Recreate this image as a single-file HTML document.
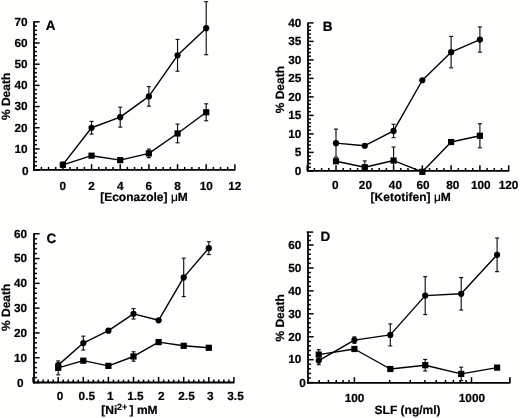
<!DOCTYPE html>
<html><head><meta charset="utf-8"><style>
html,body{margin:0;padding:0;background:#fefefd;}
svg{display:block;will-change:transform;}
text{font-family:"Liberation Sans", sans-serif;fill:#000;stroke:#000;stroke-width:0.2px;text-rendering:geometricPrecision;}
</style></head><body>
<svg width="520" height="418" viewBox="0 0 520 418">
<rect width="520" height="418" fill="#fefefd"/>
<line x1="34.00" y1="170.70" x2="34.00" y2="21.34" stroke="#000" stroke-width="1.8"/>
<line x1="34.00" y1="170.10" x2="39.60" y2="170.10" stroke="#000" stroke-width="1.5"/>
<line x1="34.00" y1="148.92" x2="39.60" y2="148.92" stroke="#000" stroke-width="1.5"/>
<line x1="34.00" y1="127.74" x2="39.60" y2="127.74" stroke="#000" stroke-width="1.5"/>
<line x1="34.00" y1="106.56" x2="39.60" y2="106.56" stroke="#000" stroke-width="1.5"/>
<line x1="34.00" y1="85.38" x2="39.60" y2="85.38" stroke="#000" stroke-width="1.5"/>
<line x1="34.00" y1="64.20" x2="39.60" y2="64.20" stroke="#000" stroke-width="1.5"/>
<line x1="34.00" y1="43.02" x2="39.60" y2="43.02" stroke="#000" stroke-width="1.5"/>
<line x1="34.00" y1="21.84" x2="39.60" y2="21.84" stroke="#000" stroke-width="1.5"/>
<line x1="34.00" y1="165.86" x2="36.90" y2="165.86" stroke="#000" stroke-width="1.5"/>
<line x1="34.00" y1="161.63" x2="36.90" y2="161.63" stroke="#000" stroke-width="1.5"/>
<line x1="34.00" y1="157.39" x2="36.90" y2="157.39" stroke="#000" stroke-width="1.5"/>
<line x1="34.00" y1="153.16" x2="36.90" y2="153.16" stroke="#000" stroke-width="1.5"/>
<line x1="34.00" y1="144.68" x2="36.90" y2="144.68" stroke="#000" stroke-width="1.5"/>
<line x1="34.00" y1="140.45" x2="36.90" y2="140.45" stroke="#000" stroke-width="1.5"/>
<line x1="34.00" y1="136.21" x2="36.90" y2="136.21" stroke="#000" stroke-width="1.5"/>
<line x1="34.00" y1="131.98" x2="36.90" y2="131.98" stroke="#000" stroke-width="1.5"/>
<line x1="34.00" y1="123.50" x2="36.90" y2="123.50" stroke="#000" stroke-width="1.5"/>
<line x1="34.00" y1="119.27" x2="36.90" y2="119.27" stroke="#000" stroke-width="1.5"/>
<line x1="34.00" y1="115.03" x2="36.90" y2="115.03" stroke="#000" stroke-width="1.5"/>
<line x1="34.00" y1="110.80" x2="36.90" y2="110.80" stroke="#000" stroke-width="1.5"/>
<line x1="34.00" y1="102.32" x2="36.90" y2="102.32" stroke="#000" stroke-width="1.5"/>
<line x1="34.00" y1="98.09" x2="36.90" y2="98.09" stroke="#000" stroke-width="1.5"/>
<line x1="34.00" y1="93.85" x2="36.90" y2="93.85" stroke="#000" stroke-width="1.5"/>
<line x1="34.00" y1="89.62" x2="36.90" y2="89.62" stroke="#000" stroke-width="1.5"/>
<line x1="34.00" y1="81.14" x2="36.90" y2="81.14" stroke="#000" stroke-width="1.5"/>
<line x1="34.00" y1="76.91" x2="36.90" y2="76.91" stroke="#000" stroke-width="1.5"/>
<line x1="34.00" y1="72.67" x2="36.90" y2="72.67" stroke="#000" stroke-width="1.5"/>
<line x1="34.00" y1="68.44" x2="36.90" y2="68.44" stroke="#000" stroke-width="1.5"/>
<line x1="34.00" y1="59.96" x2="36.90" y2="59.96" stroke="#000" stroke-width="1.5"/>
<line x1="34.00" y1="55.73" x2="36.90" y2="55.73" stroke="#000" stroke-width="1.5"/>
<line x1="34.00" y1="51.49" x2="36.90" y2="51.49" stroke="#000" stroke-width="1.5"/>
<line x1="34.00" y1="47.26" x2="36.90" y2="47.26" stroke="#000" stroke-width="1.5"/>
<line x1="34.00" y1="38.78" x2="36.90" y2="38.78" stroke="#000" stroke-width="1.5"/>
<line x1="34.00" y1="34.55" x2="36.90" y2="34.55" stroke="#000" stroke-width="1.5"/>
<line x1="34.00" y1="30.31" x2="36.90" y2="30.31" stroke="#000" stroke-width="1.5"/>
<line x1="34.00" y1="26.08" x2="36.90" y2="26.08" stroke="#000" stroke-width="1.5"/>
<line x1="33.10" y1="169.80" x2="235.36" y2="169.80" stroke="#000" stroke-width="1.8"/>
<line x1="34.24" y1="169.80" x2="34.24" y2="164.20" stroke="#000" stroke-width="1.5"/>
<line x1="62.90" y1="169.80" x2="62.90" y2="164.20" stroke="#000" stroke-width="1.5"/>
<line x1="91.56" y1="169.80" x2="91.56" y2="164.20" stroke="#000" stroke-width="1.5"/>
<line x1="120.22" y1="169.80" x2="120.22" y2="164.20" stroke="#000" stroke-width="1.5"/>
<line x1="148.88" y1="169.80" x2="148.88" y2="164.20" stroke="#000" stroke-width="1.5"/>
<line x1="177.54" y1="169.80" x2="177.54" y2="164.20" stroke="#000" stroke-width="1.5"/>
<line x1="206.20" y1="169.80" x2="206.20" y2="164.20" stroke="#000" stroke-width="1.5"/>
<line x1="234.86" y1="169.80" x2="234.86" y2="164.20" stroke="#000" stroke-width="1.5"/>
<line x1="41.41" y1="169.80" x2="41.41" y2="166.90" stroke="#000" stroke-width="1.5"/>
<line x1="48.57" y1="169.80" x2="48.57" y2="166.90" stroke="#000" stroke-width="1.5"/>
<line x1="55.73" y1="169.80" x2="55.73" y2="166.90" stroke="#000" stroke-width="1.5"/>
<line x1="70.06" y1="169.80" x2="70.06" y2="166.90" stroke="#000" stroke-width="1.5"/>
<line x1="77.23" y1="169.80" x2="77.23" y2="166.90" stroke="#000" stroke-width="1.5"/>
<line x1="84.39" y1="169.80" x2="84.39" y2="166.90" stroke="#000" stroke-width="1.5"/>
<line x1="98.72" y1="169.80" x2="98.72" y2="166.90" stroke="#000" stroke-width="1.5"/>
<line x1="105.89" y1="169.80" x2="105.89" y2="166.90" stroke="#000" stroke-width="1.5"/>
<line x1="113.06" y1="169.80" x2="113.06" y2="166.90" stroke="#000" stroke-width="1.5"/>
<line x1="127.38" y1="169.80" x2="127.38" y2="166.90" stroke="#000" stroke-width="1.5"/>
<line x1="134.55" y1="169.80" x2="134.55" y2="166.90" stroke="#000" stroke-width="1.5"/>
<line x1="141.72" y1="169.80" x2="141.72" y2="166.90" stroke="#000" stroke-width="1.5"/>
<line x1="156.04" y1="169.80" x2="156.04" y2="166.90" stroke="#000" stroke-width="1.5"/>
<line x1="163.21" y1="169.80" x2="163.21" y2="166.90" stroke="#000" stroke-width="1.5"/>
<line x1="170.38" y1="169.80" x2="170.38" y2="166.90" stroke="#000" stroke-width="1.5"/>
<line x1="184.71" y1="169.80" x2="184.71" y2="166.90" stroke="#000" stroke-width="1.5"/>
<line x1="191.87" y1="169.80" x2="191.87" y2="166.90" stroke="#000" stroke-width="1.5"/>
<line x1="199.03" y1="169.80" x2="199.03" y2="166.90" stroke="#000" stroke-width="1.5"/>
<line x1="213.37" y1="169.80" x2="213.37" y2="166.90" stroke="#000" stroke-width="1.5"/>
<line x1="220.53" y1="169.80" x2="220.53" y2="166.90" stroke="#000" stroke-width="1.5"/>
<line x1="227.69" y1="169.80" x2="227.69" y2="166.90" stroke="#000" stroke-width="1.5"/>
<text x="27.50" y="152.71" font-size="11.8" text-anchor="end" font-weight="bold" >10</text>
<text x="27.50" y="131.53" font-size="11.8" text-anchor="end" font-weight="bold" >20</text>
<text x="27.50" y="110.35" font-size="11.8" text-anchor="end" font-weight="bold" >30</text>
<text x="27.50" y="89.17" font-size="11.8" text-anchor="end" font-weight="bold" >40</text>
<text x="27.50" y="67.99" font-size="11.8" text-anchor="end" font-weight="bold" >50</text>
<text x="27.50" y="46.81" font-size="11.8" text-anchor="end" font-weight="bold" >60</text>
<text x="27.50" y="25.63" font-size="11.8" text-anchor="end" font-weight="bold" >70</text>
<text x="28.50" y="174.79" font-size="11.8" text-anchor="end" font-weight="bold" >0</text>
<text x="62.90" y="189.99" font-size="11.8" text-anchor="middle" font-weight="bold" >0</text>
<text x="91.56" y="189.99" font-size="11.8" text-anchor="middle" font-weight="bold" >2</text>
<text x="120.22" y="189.99" font-size="11.8" text-anchor="middle" font-weight="bold" >4</text>
<text x="148.88" y="189.99" font-size="11.8" text-anchor="middle" font-weight="bold" >6</text>
<text x="177.54" y="189.99" font-size="11.8" text-anchor="middle" font-weight="bold" >8</text>
<text x="206.20" y="189.99" font-size="11.8" text-anchor="middle" font-weight="bold" >10</text>
<text x="234.86" y="189.99" font-size="11.8" text-anchor="middle" font-weight="bold" >12</text>
<text x="45.80" y="29.80" font-size="13.5" text-anchor="start" font-weight="bold" >A</text>
<text x="100.20" y="201.30" font-size="12" text-anchor="start" font-weight="bold" >[Econazole] <tspan font-weight="normal">μ</tspan>M</text>
<text x="0" y="0" font-size="12" font-weight="bold" text-anchor="middle" transform="translate(10.00,96.40) rotate(-90)">% Death</text>
<path d="M62.90,164.81 L91.56,155.70 L120.22,160.15 L148.88,153.37 L177.54,133.46 L206.20,112.28" fill="none" stroke="#000" stroke-width="1.4" stroke-linejoin="round"/>
<line x1="148.88" y1="149.13" x2="148.88" y2="153.37" stroke="#111" stroke-width="1.15"/>
<line x1="146.88" y1="149.13" x2="150.88" y2="149.13" stroke="#111" stroke-width="1.15"/>
<line x1="148.88" y1="153.37" x2="148.88" y2="157.61" stroke="#111" stroke-width="1.15"/>
<line x1="146.88" y1="157.61" x2="150.88" y2="157.61" stroke="#111" stroke-width="1.15"/>
<line x1="177.54" y1="124.13" x2="177.54" y2="133.46" stroke="#111" stroke-width="1.15"/>
<line x1="175.54" y1="124.13" x2="179.54" y2="124.13" stroke="#111" stroke-width="1.15"/>
<line x1="177.54" y1="133.46" x2="177.54" y2="142.79" stroke="#111" stroke-width="1.15"/>
<line x1="175.54" y1="142.79" x2="179.54" y2="142.79" stroke="#111" stroke-width="1.15"/>
<line x1="206.20" y1="103.79" x2="206.20" y2="112.28" stroke="#111" stroke-width="1.15"/>
<line x1="204.20" y1="103.79" x2="208.20" y2="103.79" stroke="#111" stroke-width="1.15"/>
<line x1="206.20" y1="112.28" x2="206.20" y2="120.76" stroke="#111" stroke-width="1.15"/>
<line x1="204.20" y1="120.76" x2="208.20" y2="120.76" stroke="#111" stroke-width="1.15"/>
<rect x="59.80" y="161.71" width="6.2" height="6.2" fill="#000"/>
<rect x="88.46" y="152.60" width="6.2" height="6.2" fill="#000"/>
<rect x="117.12" y="157.05" width="6.2" height="6.2" fill="#000"/>
<rect x="145.78" y="150.27" width="6.2" height="6.2" fill="#000"/>
<rect x="174.44" y="130.36" width="6.2" height="6.2" fill="#000"/>
<rect x="203.10" y="109.18" width="6.2" height="6.2" fill="#000"/>
<path d="M62.90,164.59 L91.56,127.74 L120.22,117.15 L148.88,96.39 L177.54,55.30 L206.20,28.19" fill="none" stroke="#000" stroke-width="1.4" stroke-linejoin="round"/>
<line x1="91.56" y1="121.38" x2="91.56" y2="127.74" stroke="#111" stroke-width="1.15"/>
<line x1="89.56" y1="121.38" x2="93.56" y2="121.38" stroke="#111" stroke-width="1.15"/>
<line x1="91.56" y1="127.74" x2="91.56" y2="134.10" stroke="#111" stroke-width="1.15"/>
<line x1="89.56" y1="134.10" x2="93.56" y2="134.10" stroke="#111" stroke-width="1.15"/>
<line x1="120.22" y1="107.18" x2="120.22" y2="117.15" stroke="#111" stroke-width="1.15"/>
<line x1="118.22" y1="107.18" x2="122.22" y2="107.18" stroke="#111" stroke-width="1.15"/>
<line x1="120.22" y1="117.15" x2="120.22" y2="127.12" stroke="#111" stroke-width="1.15"/>
<line x1="118.22" y1="127.12" x2="122.22" y2="127.12" stroke="#111" stroke-width="1.15"/>
<line x1="148.88" y1="86.64" x2="148.88" y2="96.39" stroke="#111" stroke-width="1.15"/>
<line x1="146.88" y1="86.64" x2="150.88" y2="86.64" stroke="#111" stroke-width="1.15"/>
<line x1="148.88" y1="96.39" x2="148.88" y2="106.15" stroke="#111" stroke-width="1.15"/>
<line x1="146.88" y1="106.15" x2="150.88" y2="106.15" stroke="#111" stroke-width="1.15"/>
<line x1="177.54" y1="39.40" x2="177.54" y2="55.30" stroke="#111" stroke-width="1.15"/>
<line x1="175.54" y1="39.40" x2="179.54" y2="39.40" stroke="#111" stroke-width="1.15"/>
<line x1="177.54" y1="55.30" x2="177.54" y2="71.21" stroke="#111" stroke-width="1.15"/>
<line x1="175.54" y1="71.21" x2="179.54" y2="71.21" stroke="#111" stroke-width="1.15"/>
<line x1="206.20" y1="1.68" x2="206.20" y2="28.19" stroke="#111" stroke-width="1.15"/>
<line x1="204.20" y1="1.68" x2="208.20" y2="1.68" stroke="#111" stroke-width="1.15"/>
<line x1="206.20" y1="28.19" x2="206.20" y2="54.71" stroke="#111" stroke-width="1.15"/>
<line x1="204.20" y1="54.71" x2="208.20" y2="54.71" stroke="#111" stroke-width="1.15"/>
<circle cx="62.90" cy="164.59" r="3.10" fill="#000"/>
<circle cx="91.56" cy="127.74" r="3.10" fill="#000"/>
<circle cx="120.22" cy="117.15" r="3.10" fill="#000"/>
<circle cx="148.88" cy="96.39" r="3.10" fill="#000"/>
<circle cx="177.54" cy="55.30" r="3.10" fill="#000"/>
<circle cx="206.20" cy="28.19" r="3.10" fill="#000"/>
<line x1="308.00" y1="171.80" x2="308.00" y2="22.40" stroke="#000" stroke-width="1.8"/>
<line x1="308.00" y1="170.90" x2="313.60" y2="170.90" stroke="#000" stroke-width="1.5"/>
<line x1="308.00" y1="152.40" x2="313.60" y2="152.40" stroke="#000" stroke-width="1.5"/>
<line x1="308.00" y1="133.90" x2="313.60" y2="133.90" stroke="#000" stroke-width="1.5"/>
<line x1="308.00" y1="115.40" x2="313.60" y2="115.40" stroke="#000" stroke-width="1.5"/>
<line x1="308.00" y1="96.90" x2="313.60" y2="96.90" stroke="#000" stroke-width="1.5"/>
<line x1="308.00" y1="78.40" x2="313.60" y2="78.40" stroke="#000" stroke-width="1.5"/>
<line x1="308.00" y1="59.90" x2="313.60" y2="59.90" stroke="#000" stroke-width="1.5"/>
<line x1="308.00" y1="41.40" x2="313.60" y2="41.40" stroke="#000" stroke-width="1.5"/>
<line x1="308.00" y1="22.90" x2="313.60" y2="22.90" stroke="#000" stroke-width="1.5"/>
<line x1="308.00" y1="167.20" x2="310.90" y2="167.20" stroke="#000" stroke-width="1.5"/>
<line x1="308.00" y1="163.50" x2="310.90" y2="163.50" stroke="#000" stroke-width="1.5"/>
<line x1="308.00" y1="159.80" x2="310.90" y2="159.80" stroke="#000" stroke-width="1.5"/>
<line x1="308.00" y1="156.10" x2="310.90" y2="156.10" stroke="#000" stroke-width="1.5"/>
<line x1="308.00" y1="148.70" x2="310.90" y2="148.70" stroke="#000" stroke-width="1.5"/>
<line x1="308.00" y1="145.00" x2="310.90" y2="145.00" stroke="#000" stroke-width="1.5"/>
<line x1="308.00" y1="141.30" x2="310.90" y2="141.30" stroke="#000" stroke-width="1.5"/>
<line x1="308.00" y1="137.60" x2="310.90" y2="137.60" stroke="#000" stroke-width="1.5"/>
<line x1="308.00" y1="130.20" x2="310.90" y2="130.20" stroke="#000" stroke-width="1.5"/>
<line x1="308.00" y1="126.50" x2="310.90" y2="126.50" stroke="#000" stroke-width="1.5"/>
<line x1="308.00" y1="122.80" x2="310.90" y2="122.80" stroke="#000" stroke-width="1.5"/>
<line x1="308.00" y1="119.10" x2="310.90" y2="119.10" stroke="#000" stroke-width="1.5"/>
<line x1="308.00" y1="111.70" x2="310.90" y2="111.70" stroke="#000" stroke-width="1.5"/>
<line x1="308.00" y1="108.00" x2="310.90" y2="108.00" stroke="#000" stroke-width="1.5"/>
<line x1="308.00" y1="104.30" x2="310.90" y2="104.30" stroke="#000" stroke-width="1.5"/>
<line x1="308.00" y1="100.60" x2="310.90" y2="100.60" stroke="#000" stroke-width="1.5"/>
<line x1="308.00" y1="93.20" x2="310.90" y2="93.20" stroke="#000" stroke-width="1.5"/>
<line x1="308.00" y1="89.50" x2="310.90" y2="89.50" stroke="#000" stroke-width="1.5"/>
<line x1="308.00" y1="85.80" x2="310.90" y2="85.80" stroke="#000" stroke-width="1.5"/>
<line x1="308.00" y1="82.10" x2="310.90" y2="82.10" stroke="#000" stroke-width="1.5"/>
<line x1="308.00" y1="74.70" x2="310.90" y2="74.70" stroke="#000" stroke-width="1.5"/>
<line x1="308.00" y1="71.00" x2="310.90" y2="71.00" stroke="#000" stroke-width="1.5"/>
<line x1="308.00" y1="67.30" x2="310.90" y2="67.30" stroke="#000" stroke-width="1.5"/>
<line x1="308.00" y1="63.60" x2="310.90" y2="63.60" stroke="#000" stroke-width="1.5"/>
<line x1="308.00" y1="56.20" x2="310.90" y2="56.20" stroke="#000" stroke-width="1.5"/>
<line x1="308.00" y1="52.50" x2="310.90" y2="52.50" stroke="#000" stroke-width="1.5"/>
<line x1="308.00" y1="48.80" x2="310.90" y2="48.80" stroke="#000" stroke-width="1.5"/>
<line x1="308.00" y1="45.10" x2="310.90" y2="45.10" stroke="#000" stroke-width="1.5"/>
<line x1="308.00" y1="37.70" x2="310.90" y2="37.70" stroke="#000" stroke-width="1.5"/>
<line x1="308.00" y1="34.00" x2="310.90" y2="34.00" stroke="#000" stroke-width="1.5"/>
<line x1="308.00" y1="30.30" x2="310.90" y2="30.30" stroke="#000" stroke-width="1.5"/>
<line x1="308.00" y1="26.60" x2="310.90" y2="26.60" stroke="#000" stroke-width="1.5"/>
<line x1="307.10" y1="170.90" x2="509.18" y2="170.90" stroke="#000" stroke-width="1.8"/>
<line x1="307.22" y1="170.90" x2="307.22" y2="165.30" stroke="#000" stroke-width="1.5"/>
<line x1="336.00" y1="170.90" x2="336.00" y2="165.30" stroke="#000" stroke-width="1.5"/>
<line x1="364.78" y1="170.90" x2="364.78" y2="165.30" stroke="#000" stroke-width="1.5"/>
<line x1="393.56" y1="170.90" x2="393.56" y2="165.30" stroke="#000" stroke-width="1.5"/>
<line x1="422.34" y1="170.90" x2="422.34" y2="165.30" stroke="#000" stroke-width="1.5"/>
<line x1="451.12" y1="170.90" x2="451.12" y2="165.30" stroke="#000" stroke-width="1.5"/>
<line x1="479.90" y1="170.90" x2="479.90" y2="165.30" stroke="#000" stroke-width="1.5"/>
<line x1="508.68" y1="170.90" x2="508.68" y2="165.30" stroke="#000" stroke-width="1.5"/>
<line x1="314.42" y1="170.90" x2="314.42" y2="168.00" stroke="#000" stroke-width="1.5"/>
<line x1="321.61" y1="170.90" x2="321.61" y2="168.00" stroke="#000" stroke-width="1.5"/>
<line x1="328.81" y1="170.90" x2="328.81" y2="168.00" stroke="#000" stroke-width="1.5"/>
<line x1="343.19" y1="170.90" x2="343.19" y2="168.00" stroke="#000" stroke-width="1.5"/>
<line x1="350.39" y1="170.90" x2="350.39" y2="168.00" stroke="#000" stroke-width="1.5"/>
<line x1="357.58" y1="170.90" x2="357.58" y2="168.00" stroke="#000" stroke-width="1.5"/>
<line x1="371.98" y1="170.90" x2="371.98" y2="168.00" stroke="#000" stroke-width="1.5"/>
<line x1="379.17" y1="170.90" x2="379.17" y2="168.00" stroke="#000" stroke-width="1.5"/>
<line x1="386.37" y1="170.90" x2="386.37" y2="168.00" stroke="#000" stroke-width="1.5"/>
<line x1="400.75" y1="170.90" x2="400.75" y2="168.00" stroke="#000" stroke-width="1.5"/>
<line x1="407.95" y1="170.90" x2="407.95" y2="168.00" stroke="#000" stroke-width="1.5"/>
<line x1="415.14" y1="170.90" x2="415.14" y2="168.00" stroke="#000" stroke-width="1.5"/>
<line x1="429.53" y1="170.90" x2="429.53" y2="168.00" stroke="#000" stroke-width="1.5"/>
<line x1="436.73" y1="170.90" x2="436.73" y2="168.00" stroke="#000" stroke-width="1.5"/>
<line x1="443.93" y1="170.90" x2="443.93" y2="168.00" stroke="#000" stroke-width="1.5"/>
<line x1="458.31" y1="170.90" x2="458.31" y2="168.00" stroke="#000" stroke-width="1.5"/>
<line x1="465.51" y1="170.90" x2="465.51" y2="168.00" stroke="#000" stroke-width="1.5"/>
<line x1="472.71" y1="170.90" x2="472.71" y2="168.00" stroke="#000" stroke-width="1.5"/>
<line x1="487.10" y1="170.90" x2="487.10" y2="168.00" stroke="#000" stroke-width="1.5"/>
<line x1="494.29" y1="170.90" x2="494.29" y2="168.00" stroke="#000" stroke-width="1.5"/>
<line x1="501.49" y1="170.90" x2="501.49" y2="168.00" stroke="#000" stroke-width="1.5"/>
<text x="301.30" y="174.69" font-size="11.8" text-anchor="end" font-weight="bold" >0</text>
<text x="301.30" y="156.19" font-size="11.8" text-anchor="end" font-weight="bold" >5</text>
<text x="301.30" y="137.69" font-size="11.8" text-anchor="end" font-weight="bold" >10</text>
<text x="301.30" y="119.19" font-size="11.8" text-anchor="end" font-weight="bold" >15</text>
<text x="301.30" y="100.69" font-size="11.8" text-anchor="end" font-weight="bold" >20</text>
<text x="301.30" y="82.19" font-size="11.8" text-anchor="end" font-weight="bold" >25</text>
<text x="301.30" y="63.69" font-size="11.8" text-anchor="end" font-weight="bold" >30</text>
<text x="301.30" y="45.19" font-size="11.8" text-anchor="end" font-weight="bold" >35</text>
<text x="301.30" y="26.69" font-size="11.8" text-anchor="end" font-weight="bold" >40</text>
<text x="335.20" y="189.39" font-size="11.8" text-anchor="middle" font-weight="bold" >0</text>
<text x="365.40" y="189.39" font-size="11.8" text-anchor="middle" font-weight="bold" >20</text>
<text x="395.40" y="189.39" font-size="11.8" text-anchor="middle" font-weight="bold" >40</text>
<text x="423.10" y="189.39" font-size="11.8" text-anchor="middle" font-weight="bold" >60</text>
<text x="452.70" y="189.39" font-size="11.8" text-anchor="middle" font-weight="bold" >80</text>
<text x="480.80" y="189.39" font-size="11.8" text-anchor="middle" font-weight="bold" >100</text>
<text x="508.50" y="189.39" font-size="11.8" text-anchor="middle" font-weight="bold" >120</text>
<text x="322.80" y="31.30" font-size="13.5" text-anchor="start" font-weight="bold" >B</text>
<text x="370.60" y="200.80" font-size="12" text-anchor="start" font-weight="bold" >[Ketotifen] <tspan font-weight="normal">μ</tspan>M</text>
<text x="0" y="0" font-size="12" font-weight="bold" text-anchor="middle" transform="translate(283.50,89.70) rotate(-90)">% Death</text>
<path d="M336.00,161.28 L364.78,167.20 L393.56,160.54 L422.34,171.83 L451.12,142.04 L479.90,135.75" fill="none" stroke="#000" stroke-width="1.4" stroke-linejoin="round"/>
<line x1="364.78" y1="160.91" x2="364.78" y2="167.20" stroke="#111" stroke-width="1.15"/>
<line x1="362.78" y1="160.91" x2="366.78" y2="160.91" stroke="#111" stroke-width="1.15"/>
<line x1="364.78" y1="167.20" x2="364.78" y2="170.90" stroke="#111" stroke-width="1.15"/>
<line x1="393.56" y1="147.04" x2="393.56" y2="160.54" stroke="#111" stroke-width="1.15"/>
<line x1="391.56" y1="147.04" x2="395.56" y2="147.04" stroke="#111" stroke-width="1.15"/>
<line x1="393.56" y1="160.54" x2="393.56" y2="170.90" stroke="#111" stroke-width="1.15"/>
<line x1="479.90" y1="123.72" x2="479.90" y2="135.75" stroke="#111" stroke-width="1.15"/>
<line x1="477.90" y1="123.72" x2="481.90" y2="123.72" stroke="#111" stroke-width="1.15"/>
<line x1="479.90" y1="135.75" x2="479.90" y2="147.78" stroke="#111" stroke-width="1.15"/>
<line x1="477.90" y1="147.78" x2="481.90" y2="147.78" stroke="#111" stroke-width="1.15"/>
<rect x="332.90" y="158.18" width="6.2" height="6.2" fill="#000"/>
<rect x="361.68" y="164.10" width="6.2" height="6.2" fill="#000"/>
<rect x="390.46" y="157.44" width="6.2" height="6.2" fill="#000"/>
<rect x="419.24" y="168.73" width="6.2" height="6.2" fill="#000"/>
<rect x="448.02" y="138.94" width="6.2" height="6.2" fill="#000"/>
<rect x="476.80" y="132.65" width="6.2" height="6.2" fill="#000"/>
<path d="M336.00,143.15 L364.78,145.74 L393.56,130.94 L422.34,80.25 L451.12,52.13 L479.90,39.55" fill="none" stroke="#000" stroke-width="1.4" stroke-linejoin="round"/>
<line x1="336.00" y1="129.09" x2="336.00" y2="143.15" stroke="#111" stroke-width="1.15"/>
<line x1="334.00" y1="129.09" x2="338.00" y2="129.09" stroke="#111" stroke-width="1.15"/>
<line x1="336.00" y1="143.15" x2="336.00" y2="157.21" stroke="#111" stroke-width="1.15"/>
<line x1="334.00" y1="157.21" x2="338.00" y2="157.21" stroke="#111" stroke-width="1.15"/>
<line x1="393.56" y1="124.28" x2="393.56" y2="130.94" stroke="#111" stroke-width="1.15"/>
<line x1="391.56" y1="124.28" x2="395.56" y2="124.28" stroke="#111" stroke-width="1.15"/>
<line x1="393.56" y1="130.94" x2="393.56" y2="137.60" stroke="#111" stroke-width="1.15"/>
<line x1="391.56" y1="137.60" x2="395.56" y2="137.60" stroke="#111" stroke-width="1.15"/>
<line x1="451.12" y1="36.40" x2="451.12" y2="52.13" stroke="#111" stroke-width="1.15"/>
<line x1="449.12" y1="36.40" x2="453.12" y2="36.40" stroke="#111" stroke-width="1.15"/>
<line x1="451.12" y1="52.13" x2="451.12" y2="67.85" stroke="#111" stroke-width="1.15"/>
<line x1="449.12" y1="67.85" x2="453.12" y2="67.85" stroke="#111" stroke-width="1.15"/>
<line x1="479.90" y1="26.97" x2="479.90" y2="39.55" stroke="#111" stroke-width="1.15"/>
<line x1="477.90" y1="26.97" x2="481.90" y2="26.97" stroke="#111" stroke-width="1.15"/>
<line x1="479.90" y1="39.55" x2="479.90" y2="52.13" stroke="#111" stroke-width="1.15"/>
<line x1="477.90" y1="52.13" x2="481.90" y2="52.13" stroke="#111" stroke-width="1.15"/>
<circle cx="336.00" cy="143.15" r="3.10" fill="#000"/>
<circle cx="364.78" cy="145.74" r="3.10" fill="#000"/>
<circle cx="393.56" cy="130.94" r="3.10" fill="#000"/>
<circle cx="422.34" cy="80.25" r="3.10" fill="#000"/>
<circle cx="451.12" cy="52.13" r="3.10" fill="#000"/>
<circle cx="479.90" cy="39.55" r="3.10" fill="#000"/>
<line x1="34.00" y1="383.40" x2="34.00" y2="233.26" stroke="#000" stroke-width="1.8"/>
<line x1="34.00" y1="382.50" x2="39.60" y2="382.50" stroke="#000" stroke-width="1.5"/>
<line x1="34.00" y1="357.71" x2="39.60" y2="357.71" stroke="#000" stroke-width="1.5"/>
<line x1="34.00" y1="332.92" x2="39.60" y2="332.92" stroke="#000" stroke-width="1.5"/>
<line x1="34.00" y1="308.13" x2="39.60" y2="308.13" stroke="#000" stroke-width="1.5"/>
<line x1="34.00" y1="283.34" x2="39.60" y2="283.34" stroke="#000" stroke-width="1.5"/>
<line x1="34.00" y1="258.55" x2="39.60" y2="258.55" stroke="#000" stroke-width="1.5"/>
<line x1="34.00" y1="233.76" x2="39.60" y2="233.76" stroke="#000" stroke-width="1.5"/>
<line x1="34.00" y1="377.54" x2="36.90" y2="377.54" stroke="#000" stroke-width="1.5"/>
<line x1="34.00" y1="372.58" x2="36.90" y2="372.58" stroke="#000" stroke-width="1.5"/>
<line x1="34.00" y1="367.63" x2="36.90" y2="367.63" stroke="#000" stroke-width="1.5"/>
<line x1="34.00" y1="362.67" x2="36.90" y2="362.67" stroke="#000" stroke-width="1.5"/>
<line x1="34.00" y1="352.75" x2="36.90" y2="352.75" stroke="#000" stroke-width="1.5"/>
<line x1="34.00" y1="347.79" x2="36.90" y2="347.79" stroke="#000" stroke-width="1.5"/>
<line x1="34.00" y1="342.84" x2="36.90" y2="342.84" stroke="#000" stroke-width="1.5"/>
<line x1="34.00" y1="337.88" x2="36.90" y2="337.88" stroke="#000" stroke-width="1.5"/>
<line x1="34.00" y1="327.96" x2="36.90" y2="327.96" stroke="#000" stroke-width="1.5"/>
<line x1="34.00" y1="323.00" x2="36.90" y2="323.00" stroke="#000" stroke-width="1.5"/>
<line x1="34.00" y1="318.05" x2="36.90" y2="318.05" stroke="#000" stroke-width="1.5"/>
<line x1="34.00" y1="313.09" x2="36.90" y2="313.09" stroke="#000" stroke-width="1.5"/>
<line x1="34.00" y1="303.17" x2="36.90" y2="303.17" stroke="#000" stroke-width="1.5"/>
<line x1="34.00" y1="298.21" x2="36.90" y2="298.21" stroke="#000" stroke-width="1.5"/>
<line x1="34.00" y1="293.26" x2="36.90" y2="293.26" stroke="#000" stroke-width="1.5"/>
<line x1="34.00" y1="288.30" x2="36.90" y2="288.30" stroke="#000" stroke-width="1.5"/>
<line x1="34.00" y1="278.38" x2="36.90" y2="278.38" stroke="#000" stroke-width="1.5"/>
<line x1="34.00" y1="273.42" x2="36.90" y2="273.42" stroke="#000" stroke-width="1.5"/>
<line x1="34.00" y1="268.47" x2="36.90" y2="268.47" stroke="#000" stroke-width="1.5"/>
<line x1="34.00" y1="263.51" x2="36.90" y2="263.51" stroke="#000" stroke-width="1.5"/>
<line x1="34.00" y1="253.59" x2="36.90" y2="253.59" stroke="#000" stroke-width="1.5"/>
<line x1="34.00" y1="248.63" x2="36.90" y2="248.63" stroke="#000" stroke-width="1.5"/>
<line x1="34.00" y1="243.68" x2="36.90" y2="243.68" stroke="#000" stroke-width="1.5"/>
<line x1="34.00" y1="238.72" x2="36.90" y2="238.72" stroke="#000" stroke-width="1.5"/>
<line x1="33.10" y1="382.50" x2="234.40" y2="382.50" stroke="#000" stroke-width="1.8"/>
<line x1="33.10" y1="382.50" x2="33.10" y2="376.90" stroke="#000" stroke-width="1.5"/>
<line x1="58.20" y1="382.50" x2="58.20" y2="376.90" stroke="#000" stroke-width="1.5"/>
<line x1="83.30" y1="382.50" x2="83.30" y2="376.90" stroke="#000" stroke-width="1.5"/>
<line x1="108.40" y1="382.50" x2="108.40" y2="376.90" stroke="#000" stroke-width="1.5"/>
<line x1="133.50" y1="382.50" x2="133.50" y2="376.90" stroke="#000" stroke-width="1.5"/>
<line x1="158.60" y1="382.50" x2="158.60" y2="376.90" stroke="#000" stroke-width="1.5"/>
<line x1="183.70" y1="382.50" x2="183.70" y2="376.90" stroke="#000" stroke-width="1.5"/>
<line x1="208.80" y1="382.50" x2="208.80" y2="376.90" stroke="#000" stroke-width="1.5"/>
<line x1="233.90" y1="382.50" x2="233.90" y2="376.90" stroke="#000" stroke-width="1.5"/>
<line x1="38.12" y1="382.50" x2="38.12" y2="379.60" stroke="#000" stroke-width="1.5"/>
<line x1="43.14" y1="382.50" x2="43.14" y2="379.60" stroke="#000" stroke-width="1.5"/>
<line x1="48.16" y1="382.50" x2="48.16" y2="379.60" stroke="#000" stroke-width="1.5"/>
<line x1="53.18" y1="382.50" x2="53.18" y2="379.60" stroke="#000" stroke-width="1.5"/>
<line x1="63.22" y1="382.50" x2="63.22" y2="379.60" stroke="#000" stroke-width="1.5"/>
<line x1="68.24" y1="382.50" x2="68.24" y2="379.60" stroke="#000" stroke-width="1.5"/>
<line x1="73.26" y1="382.50" x2="73.26" y2="379.60" stroke="#000" stroke-width="1.5"/>
<line x1="78.28" y1="382.50" x2="78.28" y2="379.60" stroke="#000" stroke-width="1.5"/>
<line x1="88.32" y1="382.50" x2="88.32" y2="379.60" stroke="#000" stroke-width="1.5"/>
<line x1="93.34" y1="382.50" x2="93.34" y2="379.60" stroke="#000" stroke-width="1.5"/>
<line x1="98.36" y1="382.50" x2="98.36" y2="379.60" stroke="#000" stroke-width="1.5"/>
<line x1="103.38" y1="382.50" x2="103.38" y2="379.60" stroke="#000" stroke-width="1.5"/>
<line x1="113.42" y1="382.50" x2="113.42" y2="379.60" stroke="#000" stroke-width="1.5"/>
<line x1="118.44" y1="382.50" x2="118.44" y2="379.60" stroke="#000" stroke-width="1.5"/>
<line x1="123.46" y1="382.50" x2="123.46" y2="379.60" stroke="#000" stroke-width="1.5"/>
<line x1="128.48" y1="382.50" x2="128.48" y2="379.60" stroke="#000" stroke-width="1.5"/>
<line x1="138.52" y1="382.50" x2="138.52" y2="379.60" stroke="#000" stroke-width="1.5"/>
<line x1="143.54" y1="382.50" x2="143.54" y2="379.60" stroke="#000" stroke-width="1.5"/>
<line x1="148.56" y1="382.50" x2="148.56" y2="379.60" stroke="#000" stroke-width="1.5"/>
<line x1="153.58" y1="382.50" x2="153.58" y2="379.60" stroke="#000" stroke-width="1.5"/>
<line x1="163.62" y1="382.50" x2="163.62" y2="379.60" stroke="#000" stroke-width="1.5"/>
<line x1="168.64" y1="382.50" x2="168.64" y2="379.60" stroke="#000" stroke-width="1.5"/>
<line x1="173.66" y1="382.50" x2="173.66" y2="379.60" stroke="#000" stroke-width="1.5"/>
<line x1="178.68" y1="382.50" x2="178.68" y2="379.60" stroke="#000" stroke-width="1.5"/>
<line x1="188.72" y1="382.50" x2="188.72" y2="379.60" stroke="#000" stroke-width="1.5"/>
<line x1="193.74" y1="382.50" x2="193.74" y2="379.60" stroke="#000" stroke-width="1.5"/>
<line x1="198.76" y1="382.50" x2="198.76" y2="379.60" stroke="#000" stroke-width="1.5"/>
<line x1="203.78" y1="382.50" x2="203.78" y2="379.60" stroke="#000" stroke-width="1.5"/>
<line x1="213.82" y1="382.50" x2="213.82" y2="379.60" stroke="#000" stroke-width="1.5"/>
<line x1="218.84" y1="382.50" x2="218.84" y2="379.60" stroke="#000" stroke-width="1.5"/>
<line x1="223.86" y1="382.50" x2="223.86" y2="379.60" stroke="#000" stroke-width="1.5"/>
<line x1="228.88" y1="382.50" x2="228.88" y2="379.60" stroke="#000" stroke-width="1.5"/>
<text x="27.00" y="361.50" font-size="11.8" text-anchor="end" font-weight="bold" >10</text>
<text x="27.00" y="336.71" font-size="11.8" text-anchor="end" font-weight="bold" >20</text>
<text x="27.00" y="311.92" font-size="11.8" text-anchor="end" font-weight="bold" >30</text>
<text x="27.00" y="287.13" font-size="11.8" text-anchor="end" font-weight="bold" >40</text>
<text x="27.00" y="262.34" font-size="11.8" text-anchor="end" font-weight="bold" >50</text>
<text x="27.00" y="237.55" font-size="11.8" text-anchor="end" font-weight="bold" >60</text>
<text x="20.30" y="387.49" font-size="11.8" text-anchor="middle" font-weight="bold" >0</text>
<text x="60.00" y="400.09" font-size="11.8" text-anchor="middle" font-weight="bold" >0</text>
<text x="86.80" y="400.09" font-size="11.8" text-anchor="middle" font-weight="bold" >0.5</text>
<text x="110.20" y="400.09" font-size="11.8" text-anchor="middle" font-weight="bold" >1</text>
<text x="135.40" y="400.09" font-size="11.8" text-anchor="middle" font-weight="bold" >1.5</text>
<text x="161.30" y="400.09" font-size="11.8" text-anchor="middle" font-weight="bold" >2</text>
<text x="186.50" y="400.09" font-size="11.8" text-anchor="middle" font-weight="bold" >2.5</text>
<text x="210.40" y="400.09" font-size="11.8" text-anchor="middle" font-weight="bold" >3</text>
<text x="235.50" y="400.09" font-size="11.8" text-anchor="middle" font-weight="bold" >3.5</text>
<text x="46.60" y="242.50" font-size="13.5" text-anchor="start" font-weight="bold" >C</text>
<text x="101.30" y="414.00" font-size="12" text-anchor="start" font-weight="bold" >[Ni</text>
<text x="117.00" y="410.40" font-size="9" text-anchor="start" font-weight="bold" >2+</text>
<text x="129.60" y="414.00" font-size="12" text-anchor="start" font-weight="bold" >] mM</text>
<text x="0" y="0" font-size="12" font-weight="bold" text-anchor="middle" transform="translate(10.00,307.30) rotate(-90)">% Death</text>
<path d="M58.20,367.87 L83.30,360.68 L108.40,365.89 L133.50,356.47 L158.60,342.09 L183.70,345.81 L208.80,347.79" fill="none" stroke="#000" stroke-width="1.4" stroke-linejoin="round"/>
<line x1="58.20" y1="360.93" x2="58.20" y2="367.87" stroke="#111" stroke-width="1.15"/>
<line x1="56.20" y1="360.93" x2="60.20" y2="360.93" stroke="#111" stroke-width="1.15"/>
<line x1="58.20" y1="367.87" x2="58.20" y2="374.82" stroke="#111" stroke-width="1.15"/>
<line x1="56.20" y1="374.82" x2="60.20" y2="374.82" stroke="#111" stroke-width="1.15"/>
<line x1="133.50" y1="351.76" x2="133.50" y2="356.47" stroke="#111" stroke-width="1.15"/>
<line x1="131.50" y1="351.76" x2="135.50" y2="351.76" stroke="#111" stroke-width="1.15"/>
<line x1="133.50" y1="356.47" x2="133.50" y2="361.18" stroke="#111" stroke-width="1.15"/>
<line x1="131.50" y1="361.18" x2="135.50" y2="361.18" stroke="#111" stroke-width="1.15"/>
<rect x="55.10" y="364.77" width="6.2" height="6.2" fill="#000"/>
<rect x="80.20" y="357.58" width="6.2" height="6.2" fill="#000"/>
<rect x="105.30" y="362.79" width="6.2" height="6.2" fill="#000"/>
<rect x="130.40" y="353.37" width="6.2" height="6.2" fill="#000"/>
<rect x="155.50" y="338.99" width="6.2" height="6.2" fill="#000"/>
<rect x="180.60" y="342.71" width="6.2" height="6.2" fill="#000"/>
<rect x="205.70" y="344.69" width="6.2" height="6.2" fill="#000"/>
<path d="M58.20,365.15 L83.30,343.08 L108.40,330.69 L133.50,313.83 L158.60,320.28 L183.70,277.39 L208.80,248.14" fill="none" stroke="#000" stroke-width="1.4" stroke-linejoin="round"/>
<line x1="83.30" y1="336.14" x2="83.30" y2="343.08" stroke="#111" stroke-width="1.15"/>
<line x1="81.30" y1="336.14" x2="85.30" y2="336.14" stroke="#111" stroke-width="1.15"/>
<line x1="83.30" y1="343.08" x2="83.30" y2="350.03" stroke="#111" stroke-width="1.15"/>
<line x1="81.30" y1="350.03" x2="85.30" y2="350.03" stroke="#111" stroke-width="1.15"/>
<line x1="133.50" y1="308.63" x2="133.50" y2="313.83" stroke="#111" stroke-width="1.15"/>
<line x1="131.50" y1="308.63" x2="135.50" y2="308.63" stroke="#111" stroke-width="1.15"/>
<line x1="133.50" y1="313.83" x2="133.50" y2="319.04" stroke="#111" stroke-width="1.15"/>
<line x1="131.50" y1="319.04" x2="135.50" y2="319.04" stroke="#111" stroke-width="1.15"/>
<line x1="183.70" y1="258.18" x2="183.70" y2="277.39" stroke="#111" stroke-width="1.15"/>
<line x1="181.70" y1="258.18" x2="185.70" y2="258.18" stroke="#111" stroke-width="1.15"/>
<line x1="183.70" y1="277.39" x2="183.70" y2="296.60" stroke="#111" stroke-width="1.15"/>
<line x1="181.70" y1="296.60" x2="185.70" y2="296.60" stroke="#111" stroke-width="1.15"/>
<line x1="208.80" y1="241.69" x2="208.80" y2="248.14" stroke="#111" stroke-width="1.15"/>
<line x1="206.80" y1="241.69" x2="210.80" y2="241.69" stroke="#111" stroke-width="1.15"/>
<line x1="208.80" y1="248.14" x2="208.80" y2="254.58" stroke="#111" stroke-width="1.15"/>
<line x1="206.80" y1="254.58" x2="210.80" y2="254.58" stroke="#111" stroke-width="1.15"/>
<circle cx="58.20" cy="365.15" r="3.10" fill="#000"/>
<circle cx="83.30" cy="343.08" r="3.10" fill="#000"/>
<circle cx="108.40" cy="330.69" r="3.10" fill="#000"/>
<circle cx="133.50" cy="313.83" r="3.10" fill="#000"/>
<circle cx="158.60" cy="320.28" r="3.10" fill="#000"/>
<circle cx="183.70" cy="277.39" r="3.10" fill="#000"/>
<circle cx="208.80" cy="248.14" r="3.10" fill="#000"/>
<line x1="308.00" y1="383.70" x2="308.00" y2="231.68" stroke="#000" stroke-width="1.8"/>
<line x1="308.00" y1="382.60" x2="313.60" y2="382.60" stroke="#000" stroke-width="1.5"/>
<line x1="308.00" y1="359.67" x2="313.60" y2="359.67" stroke="#000" stroke-width="1.5"/>
<line x1="308.00" y1="336.74" x2="313.60" y2="336.74" stroke="#000" stroke-width="1.5"/>
<line x1="308.00" y1="313.81" x2="313.60" y2="313.81" stroke="#000" stroke-width="1.5"/>
<line x1="308.00" y1="290.88" x2="313.60" y2="290.88" stroke="#000" stroke-width="1.5"/>
<line x1="308.00" y1="267.95" x2="313.60" y2="267.95" stroke="#000" stroke-width="1.5"/>
<line x1="308.00" y1="245.02" x2="313.60" y2="245.02" stroke="#000" stroke-width="1.5"/>
<line x1="308.00" y1="378.01" x2="310.90" y2="378.01" stroke="#000" stroke-width="1.5"/>
<line x1="308.00" y1="373.43" x2="310.90" y2="373.43" stroke="#000" stroke-width="1.5"/>
<line x1="308.00" y1="368.84" x2="310.90" y2="368.84" stroke="#000" stroke-width="1.5"/>
<line x1="308.00" y1="364.26" x2="310.90" y2="364.26" stroke="#000" stroke-width="1.5"/>
<line x1="308.00" y1="355.08" x2="310.90" y2="355.08" stroke="#000" stroke-width="1.5"/>
<line x1="308.00" y1="350.50" x2="310.90" y2="350.50" stroke="#000" stroke-width="1.5"/>
<line x1="308.00" y1="345.91" x2="310.90" y2="345.91" stroke="#000" stroke-width="1.5"/>
<line x1="308.00" y1="341.33" x2="310.90" y2="341.33" stroke="#000" stroke-width="1.5"/>
<line x1="308.00" y1="332.15" x2="310.90" y2="332.15" stroke="#000" stroke-width="1.5"/>
<line x1="308.00" y1="327.57" x2="310.90" y2="327.57" stroke="#000" stroke-width="1.5"/>
<line x1="308.00" y1="322.98" x2="310.90" y2="322.98" stroke="#000" stroke-width="1.5"/>
<line x1="308.00" y1="318.40" x2="310.90" y2="318.40" stroke="#000" stroke-width="1.5"/>
<line x1="308.00" y1="309.22" x2="310.90" y2="309.22" stroke="#000" stroke-width="1.5"/>
<line x1="308.00" y1="304.64" x2="310.90" y2="304.64" stroke="#000" stroke-width="1.5"/>
<line x1="308.00" y1="300.05" x2="310.90" y2="300.05" stroke="#000" stroke-width="1.5"/>
<line x1="308.00" y1="295.47" x2="310.90" y2="295.47" stroke="#000" stroke-width="1.5"/>
<line x1="308.00" y1="286.29" x2="310.90" y2="286.29" stroke="#000" stroke-width="1.5"/>
<line x1="308.00" y1="281.71" x2="310.90" y2="281.71" stroke="#000" stroke-width="1.5"/>
<line x1="308.00" y1="277.12" x2="310.90" y2="277.12" stroke="#000" stroke-width="1.5"/>
<line x1="308.00" y1="272.54" x2="310.90" y2="272.54" stroke="#000" stroke-width="1.5"/>
<line x1="308.00" y1="263.36" x2="310.90" y2="263.36" stroke="#000" stroke-width="1.5"/>
<line x1="308.00" y1="258.78" x2="310.90" y2="258.78" stroke="#000" stroke-width="1.5"/>
<line x1="308.00" y1="254.19" x2="310.90" y2="254.19" stroke="#000" stroke-width="1.5"/>
<line x1="308.00" y1="249.61" x2="310.90" y2="249.61" stroke="#000" stroke-width="1.5"/>
<line x1="308.00" y1="240.43" x2="310.90" y2="240.43" stroke="#000" stroke-width="1.5"/>
<line x1="308.00" y1="235.85" x2="310.90" y2="235.85" stroke="#000" stroke-width="1.5"/>
<line x1="307.10" y1="382.80" x2="510.40" y2="382.80" stroke="#000" stroke-width="1.8"/>
<line x1="354.40" y1="382.80" x2="354.40" y2="377.20" stroke="#000" stroke-width="1.5"/>
<line x1="471.50" y1="382.80" x2="471.50" y2="377.20" stroke="#000" stroke-width="1.5"/>
<line x1="319.15" y1="382.80" x2="319.15" y2="379.90" stroke="#000" stroke-width="1.5"/>
<line x1="328.42" y1="382.80" x2="328.42" y2="379.90" stroke="#000" stroke-width="1.5"/>
<line x1="336.26" y1="382.80" x2="336.26" y2="379.90" stroke="#000" stroke-width="1.5"/>
<line x1="343.05" y1="382.80" x2="343.05" y2="379.90" stroke="#000" stroke-width="1.5"/>
<line x1="349.04" y1="382.80" x2="349.04" y2="379.90" stroke="#000" stroke-width="1.5"/>
<line x1="389.65" y1="382.80" x2="389.65" y2="379.90" stroke="#000" stroke-width="1.5"/>
<line x1="410.27" y1="382.80" x2="410.27" y2="379.90" stroke="#000" stroke-width="1.5"/>
<line x1="424.90" y1="382.80" x2="424.90" y2="379.90" stroke="#000" stroke-width="1.5"/>
<line x1="436.25" y1="382.80" x2="436.25" y2="379.90" stroke="#000" stroke-width="1.5"/>
<line x1="445.52" y1="382.80" x2="445.52" y2="379.90" stroke="#000" stroke-width="1.5"/>
<line x1="453.36" y1="382.80" x2="453.36" y2="379.90" stroke="#000" stroke-width="1.5"/>
<line x1="460.15" y1="382.80" x2="460.15" y2="379.90" stroke="#000" stroke-width="1.5"/>
<line x1="466.14" y1="382.80" x2="466.14" y2="379.90" stroke="#000" stroke-width="1.5"/>
<line x1="509.90" y1="382.80" x2="509.90" y2="377.20" stroke="#000" stroke-width="1.7"/>
<line x1="306.60" y1="232.10" x2="313.20" y2="232.10" stroke="#000" stroke-width="1.5"/>
<text x="301.30" y="363.46" font-size="11.8" text-anchor="end" font-weight="bold" >10</text>
<text x="301.30" y="340.53" font-size="11.8" text-anchor="end" font-weight="bold" >20</text>
<text x="301.30" y="317.60" font-size="11.8" text-anchor="end" font-weight="bold" >30</text>
<text x="301.30" y="294.67" font-size="11.8" text-anchor="end" font-weight="bold" >40</text>
<text x="301.30" y="271.74" font-size="11.8" text-anchor="end" font-weight="bold" >50</text>
<text x="301.30" y="248.81" font-size="11.8" text-anchor="end" font-weight="bold" >60</text>
<text x="305.70" y="386.69" font-size="11.8" text-anchor="end" font-weight="bold" >0</text>
<text x="354.50" y="402.39" font-size="11.8" text-anchor="middle" font-weight="bold" >100</text>
<text x="471.90" y="402.39" font-size="11.8" text-anchor="middle" font-weight="bold" >1000</text>
<text x="320.40" y="240.50" font-size="13.5" text-anchor="start" font-weight="bold" >D</text>
<text x="374.60" y="413.70" font-size="12" text-anchor="start" font-weight="bold" >SLF (ng/ml)</text>
<text x="0" y="0" font-size="12" font-weight="bold" text-anchor="middle" transform="translate(283.50,317.90) rotate(-90)">% Death</text>
<path d="M318.75,354.60 L354.40,349.00 L390.30,369.00 L425.20,365.20 L461.20,373.90 L497.10,367.60" fill="none" stroke="#000" stroke-width="1.4" stroke-linejoin="round"/>
<line x1="318.75" y1="349.60" x2="318.75" y2="354.60" stroke="#111" stroke-width="1.15"/>
<line x1="316.75" y1="349.60" x2="320.75" y2="349.60" stroke="#111" stroke-width="1.15"/>
<line x1="425.20" y1="359.40" x2="425.20" y2="365.20" stroke="#111" stroke-width="1.15"/>
<line x1="423.20" y1="359.40" x2="427.20" y2="359.40" stroke="#111" stroke-width="1.15"/>
<line x1="425.20" y1="365.20" x2="425.20" y2="371.00" stroke="#111" stroke-width="1.15"/>
<line x1="423.20" y1="371.00" x2="427.20" y2="371.00" stroke="#111" stroke-width="1.15"/>
<line x1="461.20" y1="367.20" x2="461.20" y2="373.90" stroke="#111" stroke-width="1.15"/>
<line x1="459.20" y1="367.20" x2="463.20" y2="367.20" stroke="#111" stroke-width="1.15"/>
<line x1="461.20" y1="373.90" x2="461.20" y2="380.60" stroke="#111" stroke-width="1.15"/>
<line x1="459.20" y1="380.60" x2="463.20" y2="380.60" stroke="#111" stroke-width="1.15"/>
<rect x="315.65" y="351.50" width="6.2" height="6.2" fill="#000"/>
<rect x="351.30" y="345.90" width="6.2" height="6.2" fill="#000"/>
<rect x="387.20" y="365.90" width="6.2" height="6.2" fill="#000"/>
<rect x="422.10" y="362.10" width="6.2" height="6.2" fill="#000"/>
<rect x="458.10" y="370.80" width="6.2" height="6.2" fill="#000"/>
<rect x="494.00" y="364.50" width="6.2" height="6.2" fill="#000"/>
<path d="M318.75,360.60 L354.40,340.10 L390.30,334.90 L425.20,295.60 L461.20,293.80 L497.10,254.80" fill="none" stroke="#000" stroke-width="1.4" stroke-linejoin="round"/>
<line x1="318.75" y1="360.60" x2="318.75" y2="364.70" stroke="#111" stroke-width="1.15"/>
<line x1="316.75" y1="364.70" x2="320.75" y2="364.70" stroke="#111" stroke-width="1.15"/>
<line x1="354.40" y1="336.90" x2="354.40" y2="340.10" stroke="#111" stroke-width="1.15"/>
<line x1="352.40" y1="336.90" x2="356.40" y2="336.90" stroke="#111" stroke-width="1.15"/>
<line x1="354.40" y1="340.10" x2="354.40" y2="343.30" stroke="#111" stroke-width="1.15"/>
<line x1="352.40" y1="343.30" x2="356.40" y2="343.30" stroke="#111" stroke-width="1.15"/>
<line x1="390.30" y1="323.90" x2="390.30" y2="334.90" stroke="#111" stroke-width="1.15"/>
<line x1="388.30" y1="323.90" x2="392.30" y2="323.90" stroke="#111" stroke-width="1.15"/>
<line x1="390.30" y1="334.90" x2="390.30" y2="345.90" stroke="#111" stroke-width="1.15"/>
<line x1="388.30" y1="345.90" x2="392.30" y2="345.90" stroke="#111" stroke-width="1.15"/>
<line x1="425.20" y1="276.60" x2="425.20" y2="295.60" stroke="#111" stroke-width="1.15"/>
<line x1="423.20" y1="276.60" x2="427.20" y2="276.60" stroke="#111" stroke-width="1.15"/>
<line x1="425.20" y1="295.60" x2="425.20" y2="314.60" stroke="#111" stroke-width="1.15"/>
<line x1="423.20" y1="314.60" x2="427.20" y2="314.60" stroke="#111" stroke-width="1.15"/>
<line x1="461.20" y1="277.60" x2="461.20" y2="293.80" stroke="#111" stroke-width="1.15"/>
<line x1="459.20" y1="277.60" x2="463.20" y2="277.60" stroke="#111" stroke-width="1.15"/>
<line x1="461.20" y1="293.80" x2="461.20" y2="310.00" stroke="#111" stroke-width="1.15"/>
<line x1="459.20" y1="310.00" x2="463.20" y2="310.00" stroke="#111" stroke-width="1.15"/>
<line x1="497.10" y1="237.95" x2="497.10" y2="254.80" stroke="#111" stroke-width="1.15"/>
<line x1="495.10" y1="237.95" x2="499.10" y2="237.95" stroke="#111" stroke-width="1.15"/>
<line x1="497.10" y1="254.80" x2="497.10" y2="271.65" stroke="#111" stroke-width="1.15"/>
<line x1="495.10" y1="271.65" x2="499.10" y2="271.65" stroke="#111" stroke-width="1.15"/>
<circle cx="318.75" cy="360.60" r="3.10" fill="#000"/>
<circle cx="354.40" cy="340.10" r="3.10" fill="#000"/>
<circle cx="390.30" cy="334.90" r="3.10" fill="#000"/>
<circle cx="425.20" cy="295.60" r="3.10" fill="#000"/>
<circle cx="461.20" cy="293.80" r="3.10" fill="#000"/>
<circle cx="497.10" cy="254.80" r="3.10" fill="#000"/>
</svg></body></html>
